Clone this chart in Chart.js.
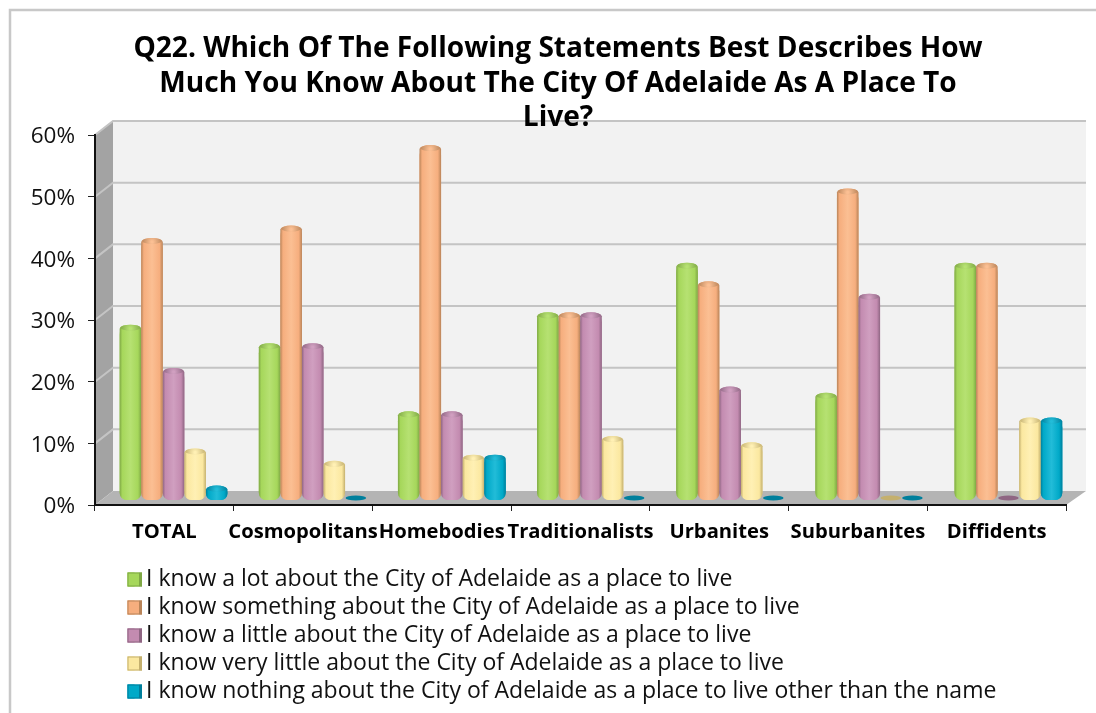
<!DOCTYPE html>
<html><head><meta charset="utf-8">
<style>html,body{margin:0;padding:0;background:#fff}canvas{display:block}</style>
<script src="https://cdn.jsdelivr.net/npm/chart.js@4"></script>
</head><body>
<canvas id="c" width="1096" height="713"></canvas>
<script>
const categories = ["TOTAL","Cosmopolitans","Homebodies","Traditionalists","Urbanites","Suburbanites","Diffidents"];
const seriesNames = [
 "I know a lot about the City of Adelaide as a place to live",
 "I know something about the City of Adelaide as a place to live",
 "I know a little about the City of Adelaide as a place to live",
 "I know very little about the City of Adelaide as a place to live",
 "I know nothing about the City of Adelaide as a place to live other than the name"];
const knowALot = [28,25,14,30,38,17,38];
const knowSomething = [42,44,57,30,35,50,38];
const knowALittle = [21,25,14,30,18,33,0];
const knowVeryLittle = [8,6,7,10,9,0,13];
const knowNothing = [2,0,7,0,0,0,13];
const seriesValues = [knowALot,knowSomething,knowALittle,knowVeryLittle,knowNothing];
const colours = ["#a6d75b","#f6ae7e","#c38bb0","#fbe8a0","#00a9c8"];
const darks = ["#7fa845","#b98459","#8f6683","#c4b06e","#007f9c"];
const lights = ["#b6e172","#fbbf93","#d09fc0","#fff0b4","#22bcd8"];
const DEPTH_X = 18, DEPTH_Y = 14, BAR_SHIFT_L = 9, BAR_SHIFT_R = 12, BAR_SHIFT_T = -6.5, BAR_SHIFT_B = -5;
const FONT = '"Open Sans", sans-serif';

const look = {
  id:'look',
  afterLayout(chart){
    const b = chart.scales.xBars, v = chart.scales.yBars;
    b.left += BAR_SHIFT_L; b.right += BAR_SHIFT_R; b.width = b.right-b.left; b.configure();
    v.top += BAR_SHIFT_T; v.bottom += BAR_SHIFT_B; v.height = v.bottom-v.top; v.configure();
    const l = chart.legend; const w = l.right - l.left;
    l.left = 122.5; l.right = l.left + w;
    const t = chart.titleBlock; t.left += 25; t.right += 25;
  },
  beforeDraw(chart){
    const c = chart.ctx, x = chart.scales.x, y = chart.scales.y;
    const L = x.left, R = x.right, y0 = y.getPixelForValue(0), yT = y.getPixelForValue(60);
    c.save();
    c.strokeStyle = '#c8c8c8'; c.lineWidth = 2.5;
    c.beginPath(); c.moveTo(10,713); c.lineTo(10,10); c.lineTo(1096,10); c.stroke();
    c.fillStyle = '#f2f2f2';
    c.fillRect(L+DEPTH_X, yT-DEPTH_Y, R-L+2, y0-yT);
    c.fillStyle = '#a3a3a3';
    c.beginPath(); c.moveTo(L,y0); c.lineTo(L,yT); c.lineTo(L+DEPTH_X,yT-DEPTH_Y); c.lineTo(L+DEPTH_X,y0-DEPTH_Y); c.closePath(); c.fill();
    c.fillStyle = '#b4b4b4';
    c.beginPath(); c.moveTo(L,y0); c.lineTo(L+DEPTH_X,y0-DEPTH_Y); c.lineTo(R+DEPTH_X+2,y0-DEPTH_Y); c.lineTo(R,y0); c.closePath(); c.fill();
    c.lineWidth = 2;
    y.ticks.forEach(t=>{
      const p = y.getPixelForValue(t.value);
      if(t.value>0){
        c.strokeStyle = '#c4c4c4';
        c.beginPath(); c.moveTo(L,p); c.lineTo(L+DEPTH_X,p-DEPTH_Y); c.lineTo(R+DEPTH_X+2,p-DEPTH_Y); c.stroke();
      }
    });
    c.restore();
  },
  afterDatasetsDraw(chart){
    const c = chart.ctx;
    chart.data.datasets.forEach((ds,i)=>{
      chart.getDatasetMeta(i).data.forEach((el,j)=>{
        const w = el.width, l = el.x-w/2, r = el.x+w/2, top = el.y-1, base = el.base;
        c.save();
        if(seriesValues[i][j]===0){
          c.fillStyle = darks[i];
          c.beginPath(); c.ellipse(el.x,base-2,w/2-0.5,2.5,0,0,Math.PI*2); c.fill();
          c.restore(); return;
        }
        const rb = 7, ry = 3;
        const g = c.createLinearGradient(l,0,r,0);
        g.addColorStop(0,darks[i]); g.addColorStop(0.12,colours[i]); g.addColorStop(0.5,lights[i]);
        g.addColorStop(0.85,colours[i]); g.addColorStop(1,darks[i]);
        c.fillStyle = g;
        c.beginPath();
        c.moveTo(l,top+ry);
        c.lineTo(l,base-rb); c.arcTo(l,base,l+rb,base,rb);
        c.lineTo(r-rb,base); c.arcTo(r,base,r,base-rb,rb);
        c.lineTo(r,top+ry);
        c.ellipse(el.x,top+ry,w/2,ry+1,0,0,Math.PI,true);
        c.closePath(); c.fill();
        const g2 = c.createRadialGradient(el.x,top+ry,1,el.x,top+ry,w/2);
        g2.addColorStop(0,lights[i]); g2.addColorStop(1,darks[i]);
        c.fillStyle = g2;
        c.beginPath(); c.ellipse(el.x,top+ry-1,w/2-1,ry,0,0,Math.PI*2); c.fill();
        c.restore();
      });
    });
  },
  afterDraw(chart){
    const c = chart.ctx, l = chart.legend;
    l.legendHitBoxes.forEach((h,i)=>{
      const yy = h.top + (h.height-14)/2;
      const g = c.createLinearGradient(h.left,0,h.left+14.5,0);
      g.addColorStop(0,colours[i]); g.addColorStop(0.8,colours[i]); g.addColorStop(0.82,darks[i]); g.addColorStop(1,darks[i]);
      c.fillStyle = g; c.fillRect(h.left,yy,14.5,14);
      c.strokeStyle = darks[i]; c.lineWidth = 1; c.strokeRect(h.left+.5,yy+.5,13.5,13);
    });
  }
};

new Chart(document.getElementById('c'),{
  type:'bar',
  data:{
    labels:categories,
    datasets:seriesNames.map((n,i)=>({label:n,data:seriesValues[i],backgroundColor:colours[i],borderColor:darks[i],borderWidth:0,
      borderRadius:8,borderSkipped:false,xAxisID:'xBars',yAxisID:'yBars',barPercentage:1,categoryPercentage:0.775}))
  },
  plugins:[look],
  options:{
    responsive:false,animation:false,
    layout:{padding:{left:0,right:30,top:0,bottom:0}},
    scales:{
      x:{type:'category',offset:true,
        grid:{display:true,drawOnChartArea:false,offset:true,tickLength:6,color:'#222',lineWidth:1,tickColor:'#222'},
        border:{display:true,color:'#111',width:2},
        ticks:{autoSkip:false,maxRotation:0,minRotation:0,color:'#000',padding:9,font:{family:FONT,size:20.2,weight:'bold'}},
        afterFit(s){s.height = 713-505-s.chart.legend.height;}
      },
      y:{type:'linear',min:0,max:60,
        grid:{display:true,drawOnChartArea:false,tickLength:7,color:'#222',tickColor:'#222'},
        border:{display:true,color:'#111',width:2},
        ticks:{stepSize:10,color:'#111',padding:13,labelOffset:2,font:{family:FONT,size:22.5},callback:v=>v+'%'},
        afterFit(s){s.width = 95;}
      },
      xBars:{type:'category',display:false,offset:true,grid:{offset:true}},
      yBars:{type:'linear',display:false,min:0,max:60}
    },
    plugins:{
      title:{display:true,align:'center',color:'#000',
        text:["Q22. Which Of The Following Statements Best Describes How","Much You Know About The City Of Adelaide As A Place To","Live?"],
        font:{family:FONT,size:28.1,weight:'bold',lineHeight:1.228},
        padding:{top:32,bottom:-0.5}},
      legend:{display:true,position:'bottom',align:'start',
        labels:{boxWidth:7,boxHeight:14,padding:5,color:'#111',font:{family:FONT,size:23}}},
      tooltip:{enabled:false}
    }
  }
});
</script>
</body></html>
